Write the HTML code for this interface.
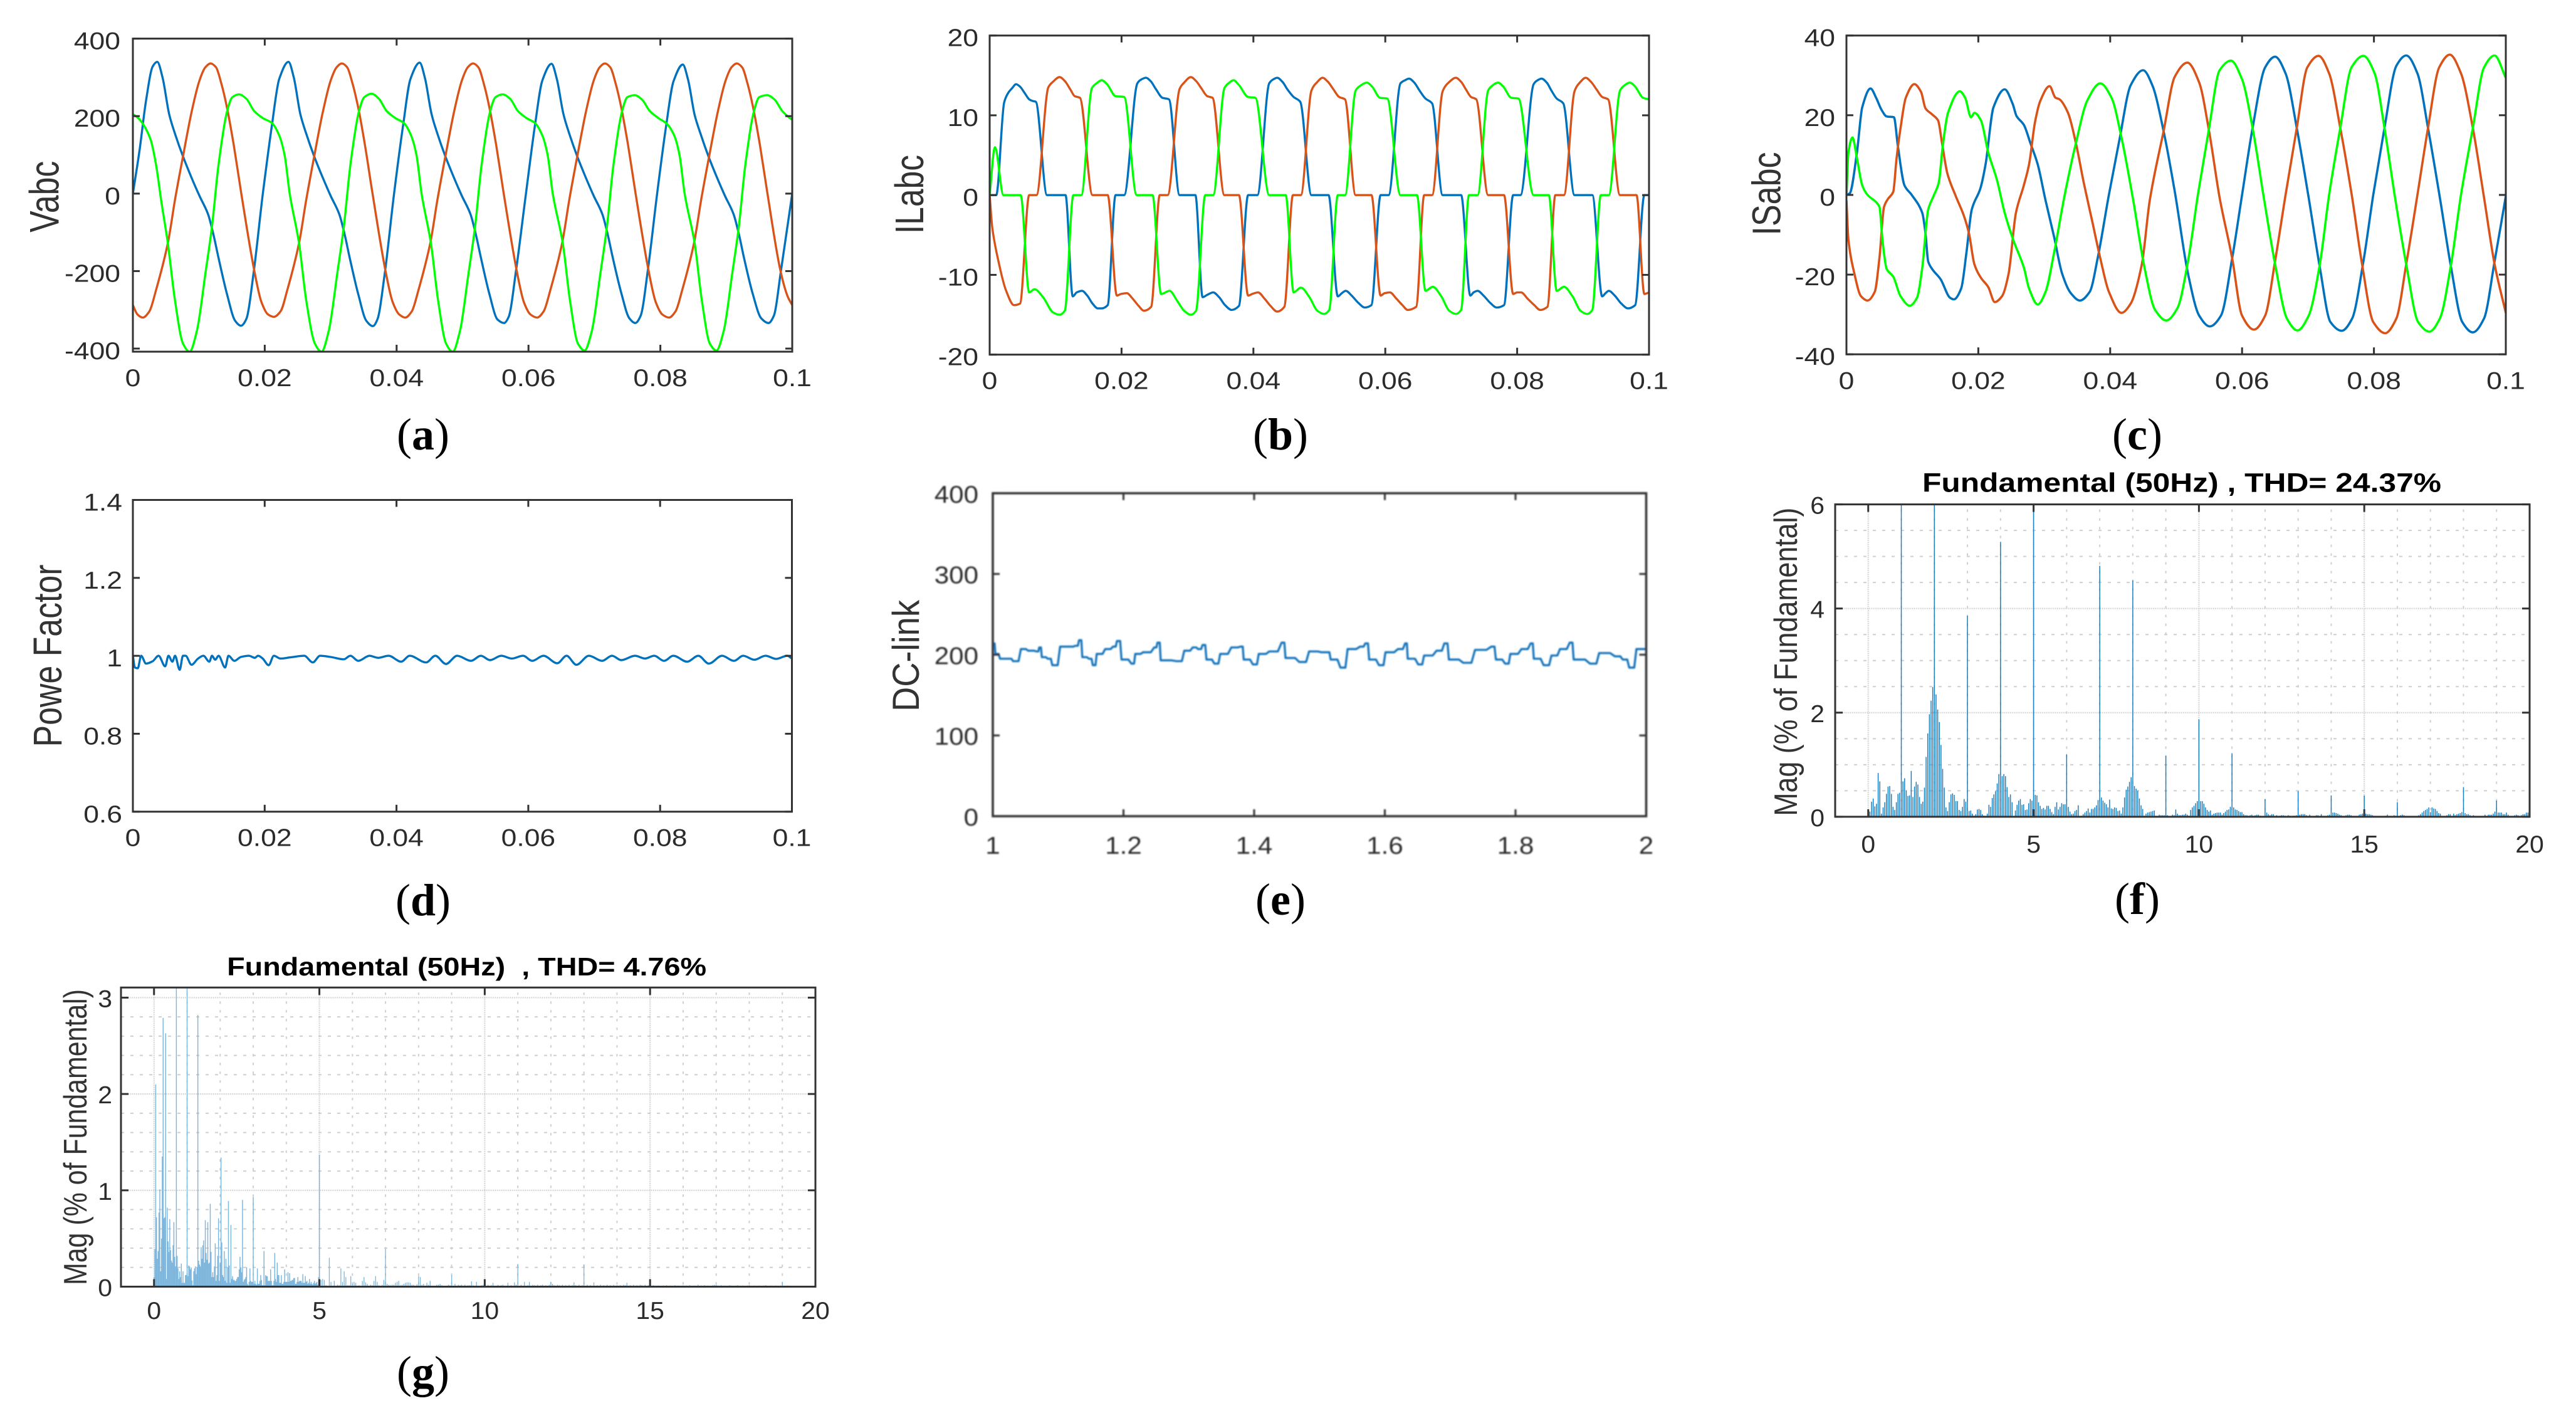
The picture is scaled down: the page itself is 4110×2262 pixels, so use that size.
<!DOCTYPE html>
<html lang="en">
<head>
<meta charset="utf-8">
<title>Power converter waveforms and spectra</title>
<style>
html,body{margin:0;padding:0;background:#fff;}
svg{display:block;}
text{font-family:"Liberation Sans",sans-serif;fill:#2b2b2b;white-space:pre;}
.cap{font-family:"Liberation Serif",serif;fill:#000;font-size:72px;text-anchor:middle;}
.cap tspan{font-weight:bold;}
.yl{fill:#333;text-anchor:middle;}
.ttl{font-weight:bold;fill:#000;text-anchor:middle;}
</style>
</head>
<body>
<svg id="fig" xmlns="http://www.w3.org/2000/svg" width="4110" height="2262" viewBox="0 0 4110 2262">
<defs>
<filter id="soft" x="-5%" y="-5%" width="110%" height="110%"><feGaussianBlur stdDeviation="1"/></filter>
</defs>
<rect width="4110" height="2262" fill="#fff"/>
<g id="pa"></g>
<g id="pb"></g>
<g id="pc"></g>
<g id="pd"></g>
<g id="pe" filter="url(#soft)"></g>
<g id="pf"></g>
<g id="pg"></g>

<text class="yl" font-size="66" textLength="114" lengthAdjust="spacingAndGlyphs" transform="translate(93.5,313.8) rotate(-90)">Vabc</text>
<text class="yl" font-size="64" textLength="126" lengthAdjust="spacingAndGlyphs" transform="translate(1473,310) rotate(-90)">ILabc</text>
<text class="yl" font-size="64" textLength="133" lengthAdjust="spacingAndGlyphs" transform="translate(2840.5,309) rotate(-90)">ISabc</text>
<text class="yl" font-size="64" textLength="291" lengthAdjust="spacingAndGlyphs" transform="translate(98,1046) rotate(-90)">Powe Factor</text>
<text class="yl" font-size="60" textLength="178" lengthAdjust="spacingAndGlyphs" transform="translate(1466,1046) rotate(-90)">DC-link</text>
<text class="yl" font-size="52" textLength="492" lengthAdjust="spacingAndGlyphs" transform="translate(2867,1055.7) rotate(-90)">Mag (% of Fundamental)</text>
<text class="yl" font-size="52" textLength="472" lengthAdjust="spacingAndGlyphs" transform="translate(138,1814) rotate(-90)">Mag (% of Fundamental)</text>

<text class="ttl" font-size="43" textLength="828" lengthAdjust="spacingAndGlyphs" x="3481" y="784.5">Fundamental (50Hz) , THD= 24.37%</text>
<text class="ttl" font-size="41" textLength="765" lengthAdjust="spacingAndGlyphs" x="744.6" y="1556">Fundamental (50Hz)  , THD= 4.76%</text>

<text class="cap" x="675" y="717">(<tspan>a</tspan>)</text>
<text class="cap" x="2043" y="717">(<tspan>b</tspan>)</text>
<text class="cap" x="3410" y="717">(<tspan>c</tspan>)</text>
<text class="cap" x="675" y="1460">(<tspan>d</tspan>)</text>
<text class="cap" x="2043" y="1459">(<tspan>e</tspan>)</text>
<text class="cap" x="3410" y="1458">(<tspan>f</tspan>)</text>
<text class="cap" x="675" y="2213">(<tspan>g</tspan>)</text>
</svg>

<script>
/* ---------- panel (a) Vabc: times in ms, values in volts ---------- */
const vabcBlueT=[0,1,2,3,3.7,4.5,5.5,6.4,7.6,8.9,10.1,11.4,12.2,13,14.3,15.5,16.4,17.2,18.3,19.7,21.1,22.2,
23.6,24.4,25.4,26.3,27.5,28.8,30,31.3,32.1,32.9,34.2,35.4,36.4,37.1,38.2,39.6,41,42.1,
43.5,44.3,45.3,46.2,47.4,48.7,49.9,51.2,52,52.8,54.1,55.3,56.3,57,58.1,59.6,61,62.1,
63.5,64.3,65.3,66.2,67.4,68.7,69.9,71.2,72,72.8,74.1,75.3,76.2,77,78.1,79.5,80.9,82,
83.4,84.2,85.2,86.1,87.3,88.6,89.8,91.1,91.9,92.7,94,95.3,96.4,97.2,98.3,100];
const vabcBlueV=[0,110,240,328,340,300,205,154,96,41,-6,-53,-104,-167,-261,-328,-341,-324,-206,-2,178,296,
340,300,205,154,96,41,-6,-53,-104,-167,-261,-328,-342,-324,-206,-2,178,296,
338,298,205,154,96,41,-6,-53,-104,-167,-261,-325,-334,-318,-200,-2,178,292,
335,296,205,154,96,41,-6,-53,-104,-167,-258,-322,-334,-316,-198,-2,178,290,
333,294,203,154,96,41,-6,-53,-104,-167,-258,-322,-334,-316,-198,0];
const vabcRedT=[0,.7,1.5,2.5,3.5,5.3,6.4,7.6,8.9,10.1,11,11.8,12.6,13.4,14.3,15.3,16.4,18.4,19.5,20.5,21.4,
22.4,23.4,25.2,26.3,27.5,28.8,30,30.9,31.7,32.5,33.3,34.2,35.2,36.3,38.3,39.4,40.4,41.3,
42.3,43.3,45.1,46.2,47.4,48.7,49.9,50.8,51.6,52.4,53.2,54.1,55.1,56.2,58.2,59.3,60.3,61.3,
62.3,63.3,65.1,66.2,67.4,68.7,69.9,70.8,71.6,72.4,73.2,74.1,75.1,76.2,78.2,79.3,80.3,81.3,
82.3,83.3,85.1,86.2,87.4,88.7,89.9,90.8,91.6,92.4,93.2,94.1,95.1,96.2,98.2,99.3,100];
const vabcRedV=[-288,-312,-320,-304,-250,-128,-15,96,210,292,326,336,326,285,220,125,5,-198,-280,-312,-318,
-304,-250,-128,-15,96,210,292,326,336,326,285,220,125,5,-198,-280,-312,-320,
-304,-250,-128,-15,96,210,292,326,336,326,285,220,125,5,-198,-280,-312,-320,
-304,-250,-128,-15,96,210,292,326,336,326,285,220,125,5,-198,-280,-312,-320,
-304,-250,-128,-15,96,210,292,326,336,326,285,220,125,5,-198,-265,-288];
const vabcGreenT=[0,.8,1.6,2.7,3.5,4.3,5.3,6.4,7.6,8.6,9.7,11,12,13,14.3,15.1,16.1,17.2,18.4,19.7,21.1,22.2,23,23.8,
25.2,26.3,27.6,28.6,29.7,31,32,33,34.3,35.1,36.2,37.3,38.5,39.8,41.1,42.2,43,43.8,
45.2,46.3,47.5,48.5,49.6,50.9,51.9,52.9,54.2,55,56.1,57.2,58.4,59.7,61,62.1,62.9,63.7,
65.2,66.3,67.5,68.5,69.6,70.9,71.9,72.9,74.2,75,76.1,77.2,78.4,79.7,81,82.1,82.9,83.7,
85.2,86.3,87.5,88.5,89.6,90.9,91.9,92.9,94.2,95,96.2,97.3,98.5,99.5,100];
const vabcGreenV=[205,195,178,139,76,-18,-128,-277,-387,-408,-355,-206,-85,76,213,249,256,245,213,195,182,150,100,-2,
-128,-277,-387,-408,-355,-206,-85,76,213,249,258,245,213,195,182,150,100,-2,
-128,-277,-387,-408,-355,-206,-85,76,213,249,256,245,213,195,182,150,100,-2,
-128,-277,-387,-405,-355,-206,-85,76,213,249,254,243,213,195,180,150,100,-2,
-128,-277,-387,-405,-355,-206,-85,76,213,249,254,243,213,197,191];

/* ---------- panel (b) ILabc ---------- */
const ilBlueT=[0,1,2.2,2.8,3.4,4,4.6,5.3,6,6.5,7,8.7,11.5,12.6,13.2,14,14.8,15.6,16.4,17,17.9,19.1,20.4,
22.4,23,23.7,24.4,25.2,26.2,27.2,28.8,31.2,32.3,33,33.9,34.8,35.7,36.7,37.8,39.2,40.6,
42.4,43,43.6,44.4,45.2,46.1,47.1,48.8,51.4,52.8,53.4,54,54.9,55.9,56.9,57.9,59.3,60.5,
62.3,63,63.6,64.4,65.2,66.1,67.1,68.7,71.5,72.9,73.4,74,74.9,75.9,76.9,78,79.4,80.5,
82.5,83.1,83.7,84.5,85.2,86,87,88.7,91.4,92.9,93.4,93.9,94.8,95.8,96.8,97.9,99.3,100];
const ilBlueV=[0,0,11.6,12.8,13.4,13.9,13.6,12.8,12,11.8,11.7,0,0,-12.7,-12.2,-12,-12.6,-13.6,-14.2,-14.2,-13.8,0,0,
14,14.5,14.7,14.3,13.3,12.2,12,0,0,-12.8,-12.5,-12.2,-12.8,-13.8,-14.4,-13.9,0,0,
14,14.5,14.7,14.2,13.2,12.3,11.7,0,0,-12.7,-12.3,-12,-12.6,-13.5,-14.1,-13.8,0,0,
14,14.4,14.6,14.1,13.1,12.1,11.5,0,0,-12.6,-12.2,-12,-12.6,-13.5,-14.1,-13.8,0,0,
13.9,14.4,14.6,14.1,13.1,12.1,11.5,0,0,-12.7,-12.3,-12,-12.6,-13.6,-14.2,-13.8,0,0];
const ilRedT=[0,.4,1.25,2.5,3.7,4.6,6,7.1,8.9,9.6,10.6,11.4,12.2,12.9,13.7,15.6,17.9,19.3,19.9,20.8,21.7,22.6,23.4,24.5,25.8,27,
28.8,29.5,30.5,31.3,32.1,33,33.8,35.6,37.8,39.2,39.8,40.7,41.7,42.6,43.6,44.7,46,47.2,
48.8,49.6,50.5,51.3,52.1,53,53.9,55.5,57.9,59.3,59.9,60.7,61.7,62.6,63.4,64.7,65.9,67.1,
68.7,69.6,70.7,71.5,72.2,73,73.8,75.6,78,79.4,80,80.6,81.6,82.6,83.5,84.6,85.8,87.1,
88.7,89.5,90.4,91.2,92,92.9,93.8,95.6,98.1,99.3,100];
const ilRedV=[0,-4.1,-8,-12,-13.8,-13.6,0,0,13.5,14.2,14.8,14.3,13.3,12.4,12.2,0,0,-12.6,-12.4,-12.3,-13,-13.9,-14.5,-14,0,0,
13.3,14.1,14.8,14.3,13.4,12.4,12.2,0,0,-12.6,-12.4,-12.2,-13,-13.9,-14.6,-14,0,0,
13.1,14.1,14.7,14.2,13.3,12.3,12,0,0,-12.6,-12.3,-12.2,-13,-13.8,-14.4,-14,0,0,
13,14.1,14.7,14.2,13.3,12.3,12,0,0,-12.4,-12.2,-12.2,-13,-13.8,-14.4,-14,0,0,
13,14.1,14.7,14.2,13.3,12.3,12,0,0,-12.4,-12.2];
const ilGreenT=[0,.8,2.1,4.7,6,6.8,8.1,9.6,10.6,11.4,12.7,13.9,15.5,16.2,17,17.8,19.1,20.4,22.3,24.7,26,27.3,28.4,29.5,30.5,31.3,32.7,33.9,
35.6,36.2,37,37.8,39.2,40.3,42.4,44.9,46.1,47.2,48.5,49.7,50.7,51.5,52.8,53.9,
55.5,56.2,57.2,58,59.2,60.3,62.3,64.8,66.1,67.2,68.5,69.7,70.7,71.5,72.7,74,
75.6,76.2,77.1,77.9,79.1,80.2,82.5,84.8,86,87.1,88.4,89.6,90.6,91.4,92.7,93.9,
95.6,96.2,97.1,97.9,99.1,100];
const ilGreenV=[0,6,0,0,-12.2,-11.8,-12.8,-14.7,-15,-14.5,0,0,13.4,14,14.4,13.9,12.4,12.3,0,0,-12.4,-12,-13.2,-14.5,-15,-14.5,0,0,
13.4,14,14.4,13.8,12.3,12.2,0,0,-12.2,-11.6,-12.8,-14.5,-14.9,-14.4,0,0,
13.1,13.7,14.1,13.6,12.2,12.1,0,0,-12,-11.5,-12.7,-14.5,-14.9,-14.4,0,0,
13.1,13.7,14.1,13.6,12.2,12.1,0,0,-12,-11.5,-12.7,-14.5,-14.9,-14.4,0,0,
13.1,13.7,14.1,13.6,12.2,12];

/* ---------- panel (c) ISabc ---------- */
const isBlueT=[0,.5,1.6,2.4,3.65,4.5,5.3,6.1,7.2,7.8,8.8,9.9,11.5,12,12.4,13,14.3,15.7,16.3,17.4,18.2,19,20.3,21.1,22.3,24,25.2,25.8,26.9,27.9,29,30.2,31.5,32.7,34,35.4,36.9,38.1,39.8,41.4,43.1,45,46.4,48.1,49.8,51.8,53.5,55.1,56.8,58.5,60,61.6,63.5,65,66.6,68.3,70.1,71.8,73.4,75.1,76.7,78.4,79.9,81.6,83.4,84.9,86.6,88.2,90,91.7,93.4,95,96.7,98.3,100];
const isBlueV=[0,.4,10.7,22,26.7,24.4,21.4,19.7,19.5,12.2,2.4,0,-4.5,-9.8,-16.7,-18.6,-21.2,-25.8,-26.2,-23.5,-14.4,-3.7,1.6,7.7,22,26.5,22.9,19.8,17.6,13,7.7,-1.4,-10.6,-19.7,-24.6,-26.5,-24.3,-15.9,0,13.8,27.5,31.3,27.5,16,.8,-19.7,-30.3,-33,-30.3,-15.9,0,16.8,32,34.7,30.5,16.8,-.7,-18.2,-31.9,-34.1,-31,-16.7,0,16.8,32.4,35,30.5,16.8,-.7,-18.2,-31.9,-34.5,-31,-16.7,-.3];
const isRedT=[0,.3,1.2,2.2,3.2,4.3,5,5.7,6.3,7.1,7.6,8.2,9,10.3,11.3,12,13,13.9,14.5,15.3,16.5,17.8,18.6,19.4,20.4,21.5,22.5,23.6,24.6,25.7,26.9,27.7,28.6,29.4,30.8,31.7,32.3,33.6,34.8,36,37.3,38.5,39.8,41.7,43.1,44.8,46,48.1,49.8,51.7,53.5,55,56.6,58.5,60,61.8,63.5,65,66.6,68.3,69.9,71.6,73.2,74.9,76.7,78.2,79.9,81.7,83.4,84.9,86.6,88.2,89.9,91.5,93.2,95,96.7,98.3,100];
const isRedV=[-1.4,-11.3,-19.7,-25.4,-26.5,-24.3,-15.9,-3,-1,.8,9.2,16.8,24.4,27.8,25.9,21.7,20.2,18.7,13,5.4,0,-5.2,-9.8,-17.4,-20.8,-23.1,-26.9,-25.4,-19.7,-4.5,2.4,7.7,18.3,23.6,27.3,24.4,24,20.6,13,3,-6.8,-15.9,-24.3,-29.6,-27.3,-17.4,-1.4,16,29.7,33.2,28.2,16,-.7,-15.9,-30.3,-33.8,-30.3,-16.7,0,16.8,32,34.9,30.5,16.8,-.7,-17.4,-31.9,-34.7,-31,-17.4,0,16.8,32,35.2,30.5,16.8,-.7,-17.4,-29.6];
const isGreenT=[0,.3,.9,1.6,2.4,3.2,4.5,5,5.5,6.1,7.1,8.2,9.6,10.7,11.5,12.4,13.2,14,14.6,15.4,17.2,18,18.9,19.4,20.4,21.5,22.8,24,25.3,26.9,27.7,29,30.2,31.5,33.1,34.8,36.5,38.5,40.2,41.7,43.5,45.2,46.8,48.5,50.2,51.8,53.3,55,56.6,58.3,60,61.6,63.3,65.1,66.8,68.4,70.1,71.8,73.2,74.9,76.6,78.4,80.1,81.6,83.2,84.9,86.7,88.4,90,91.7,93.2,95,96.7,98.3,100];
const isGreenV=[0,10.7,14.4,9.2,2.4,0,-1.8,-3,-12,-18.6,-20.5,-25.4,-27.8,-25.8,-18.2,-3.7,-.3,3.1,12.2,20.6,26,24.4,19.5,20.6,18.7,10.7,3.9,-4.5,-11.3,-18.2,-23.5,-27.5,-24.3,-14.4,0,13,23.6,28,24.4,14.5,-1.4,-18.2,-28.8,-31.5,-28.4,-16.7,0,16.8,31.3,33.7,29,16.8,-.7,-18.2,-31,-34,-30.3,-17.4,0,16.8,32,34.9,30.5,16.8,-.7,-17.4,-31.9,-34.3,-31,-17.4,0,16.8,32,35,29.4];

/* ---------- panel (d) power factor ---------- */
const pfT=[0,.3,.75,1.25,2,3,3.9,4.9,5.4,6,6.4,7.1,7.6,8,8.9,9.9,10.7,11.6,12,12.5,13,14,14.5,15.4,16.4,17.6,18.5,19,19.7,20.6,21.4,22.4,23.9,26,27.3,28.4,30,32,33,34.2,35.9,37.2,38.8,40.7,42,44.5,45.9,47.5,49.2,51.3,52.8,54.2,55.9,57.5,59.2,60.6,62.3,64.4,65.8,67.3,69.2,71.2,72.7,74.1,76.2,77.7,79.1,80.6,82,84.1,85.8,87.4,89.4,91.2,92.6,94.3,96,97.6,99.3,100];
const pfV=[1,.97,.968,1,.98,.986,1,.973,1,.985,1,.964,1,1,.977,.993,1,.985,1,.99,1,.97,1,.987,.997,1,.995,1,.993,.976,1,.993,.996,1,.983,1,.997,.991,1,.987,1,.995,1,.985,1,.983,1,.979,1,.987,1,.989,1,.993,1,.987,1,.981,1,.977,1,.987,1,.989,1,.993,1,.987,1,.985,1,.98,1,.987,1,.99,1,.992,1,.993];

/* ---------- panel (e) DC-link ---------- */
const dcT=[1,1.004,1.011,1.023,1.031,1.043,1.054,1.067,1.071,1.075,1.084,1.091,1.103,1.117,1.126,1.132,1.137,1.147,1.153,1.159,1.172,1.184,1.19,1.197,1.212,1.218,1.23,1.247,1.252,1.257,1.281,1.293,1.306,1.314,1.321,1.327,1.339,1.348,1.365,1.379,1.384,1.398,1.407,1.423,1.442,1.448,1.469,1.484,1.503,1.511,1.517,1.532,1.543,1.562,1.57,1.576,1.591,1.601,1.62,1.631,1.635,1.651,1.66,1.679,1.691,1.698,1.72,1.738,1.763,1.77,1.784,1.792,1.809,1.823,1.828,1.843,1.855,1.868,1.883,1.889,1.914,1.928,1.952,1.964,1.974,1.985,2];
const dcV=[214,201,195,195,192,207,205,204,209,197,195,187,210,210,211,218,197,195,187,201,207,210,217,194,189,201,203,209,215,193,192,205,209,207,212,194,189,201,209,210,194,188,201,204,215,196,191,204,203,203,194,184,207,210,214,194,187,203,207,214,195,188,199,205,214,194,190,206,210,194,189,201,207,214,195,187,199,207,215,194,189,202,198,194,184,207,207];

/* ---------- panel (f) spectrum: magnitude per 0.05 harmonic order, rows cover one order ---------- */
const thdLoadMag=[.12,.1,.29,.35,.2,.25,.84,.68,.06,.18,.28,.44,.58,.59,.44,.19,.13,.28,.44,.46,
6.5,.68,.74,.51,.4,.41,.88,.38,.58,.67,.62,.38,.25,.29,.56,1.15,1.6,1.97,2.23,2.49,
6.5,2.35,2.06,1.82,1.38,.92,.56,.18,.11,.28,.43,.45,.42,.3,.3,.13,.11,.19,.34,.29,
3.86,.11,.12,.06,.02,.05,.14,.15,.13,.05,.02,0,.06,.23,.19,.36,.43,.49,.64,.82,
5.28,.78,.82,.78,.57,.38,.43,.28,0,.12,.23,.31,.34,.23,.24,.13,.14,.26,.34,.31,
5.88,.42,.41,.28,.21,.15,.17,.14,.21,.21,.15,.09,.05,.19,.28,.14,.19,.26,.24,.24,
1.2,.19,.1,.05,.06,.11,.13,.22,0,.02,.05,.08,.11,.16,.08,.15,.15,.18,.22,.32,
4.82,.37,.31,.27,.24,.18,.33,.16,.15,.18,.17,.11,.12,.06,.18,.37,.52,.58,.67,.76,
4.54,.59,.54,.5,.35,.22,.15,.02,.06,.08,.09,.1,.11,.12,.02,.01,.04,.03,.03,.03,
1.17,.03,0,.01,.04,.03,.14,.06,.03,.03,.04,.04,.06,.04,.02,.13,.18,.21,.26,.3,
1.87,.3,.3,.25,.18,.13,.1,.12,.04,.06,.07,.08,.08,.08,.04,.07,.1,.13,.14,.19,
1.22,.18,.14,.13,.11,.09,.09,.05,.03,.03,.02,.03,.04,.02,.03,.04,.04,.02,0,.01,
.34,.08,.05,.03,.05,.05,0,.03,.01,.02,.03,.03,.02,.01,.03,.02,.01,.02,.02,.03,
.49,.04,.05,.05,.05,.03,0,.04,0,0,0,.03,.03,.01,.05,.01,.01,.01,.03,.04,
.41,.08,.08,.07,.06,.04,.03,0,0,.03,.04,.04,.03,0,.01,0,0,.04,.05,.06,
.41,.06,.05,.05,.04,.03,0,0,.01,.01,.01,.01,0,.02,.04,.01,.01,.01,.03,.02,
.28,0,.03,.04,.03,.01,0,0,0,0,0,0,0,.03,.05,.08,.11,.13,.15,.18,
.09,.18,.16,.15,.11,.07,.06,.01,.01,.01,.03,.05,.05,0,.06,.03,.05,.06,.07,.09,
.57,.07,.05,.05,.03,.01,.03,.01,0,.01,0,.01,.01,.04,0,.04,.04,.04,.06,.1,
.31,.08,.08,.08,.05,.05,.08,.04,0,0,0,.03,.04,.03,0,.03,.05,.05,.08,.08,
.08];

/* ---------- panel (g) spectrum: low part per 0.025 order (rows 0.5 order), high part per 0.05 order (rows 1 order) ---------- */
const thdSourceLow=[.1,.39,2.1,.72,.29,.37,.77,1.01,.16,.5,1.35,2.79,.71,.72,2.63,.08,.82,.47,.36,.7,
.38,.27,.25,.43,.67,.31,.21,3.4,.32,.19,.08,.16,.1,.24,.04,.16,.04,.04,.12,.12,
3.4,.11,.22,.21,.18,.2,.065,.015,.16,.19,.21,.13,.2,2.82,.27,.23,.21,.41,.29,.43,
.48,.25,.69,.35,.28,.67,.24,.25,.86,.36,.1,.15,.1,.21,.45,.06,.12,.32,.71,.06,
.25,1.34,.46,.12,.1,.37,.06,.29,.04,.2,.89,.22,.04,.64,.08,.11,.07,.07,.06,.06,
.08,.1,.1,.18,.31,.2,.15,.9,.05,.07,.08,.1,.2,.03,.015,.05,.19,.06,.05,.05,
.93,.03,.06,.03,.02,.19,.03,.03,.06,.12,.07,.015,.015,.37,.015,.12,.11,.11,.06,.06,
.06,.18,.06,.015,.015,.06,.35,.08,.05,.25,.12,.12,.04,.04,.12,.03,.03,.05,.18,.05,
.05,.05,.15,.05,.14,.06,.06,.07,.07,.09,.09,.03,.03,.05,.1,.05,.06,.06,.06,.04,
.13,.04,.04,.11,.05,.06,.03,.04,.08,.03,.05,.03,.02,.04,.06,.03,.04,.05,.02,.1,
1.37];
const thdSourceHigh=[.07,.08,.07,.015,.01,.3,.05,.01,.06,.01,.02,.015,.19,.05,.16,.1,.015,.015,.11,.03,
.05,.04,.01,.015,.01,.06,.1,.045,.03,.01,.02,.015,.06,.11,.05,.015,.01,.02,.07,.39,
.03,.02,.015,.02,.02,.04,.05,.06,.015,.02,.03,.04,.045,.045,.04,.02,.02,.01,.025,.11,
.1,.02,.03,.01,.04,.02,.06,.01,.01,.01,.02,.02,.03,.015,.01,.01,.01,.02,.015,.12,
.01,.03,.01,.02,.015,.02,.01,.02,.01,.015,.015,.055,.015,.01,.05,.01,.01,.015,.02,.06,
.01,.02,.01,.015,.04,.01,.01,.02,.01,.015,.02,.01,.01,.04,.01,.015,.01,.045,.02,.235,
.01,.02,.01,.05,.01,.015,.05,.01,.02,.015,.01,.02,.01,.015,.02,.01,.015,.01,.02,.05,
.03,.015,.01,.02,.015,.01,.02,.01,.015,.01,.02,.01,.015,.045,.015,.01,.02,.01,.015,.23,
.01,.02,.01,.015,.01,.045,.01,.015,.01,.02,.01,.015,.01,.02,.01,.015,.01,.02,.01,.015,
.01,.015,.01,.02,.015,.04,.01,.015,.01,.02,.01,.015,.01,.02,.015,.01,.02,.01,.015,.06,
.01,.015,.01,.008,.012,.01,.008,.012,.01,.015,.008,.012,.01,.008,.015,.01,.012,.008,.01,.012,
.008,.012,.01,.015,.008,.01,.012,.008,.02,.01,.012,.008,.015,.01,.012,.008,.01,.015,.02,.02,
.012,.01,.015,.008,.012,.01,.008,.015,.012,.01,.008,.012,.015,.01,.008,.012,.01,.008,.012,.015,
.008,.01,.012,.008,.01,.012,.008,.01,.012,.015,.008,.01,.012,.008,.01,.012,.008,.01,.012,.05,
.01,.008,.012,.008,.01,.006,.008,.01,.006,.008,.006,.01,.006,.008,.006,.006,.008,.006,.006,.006];

/* ---------- tick labels ---------- */
const timeTicks=[0,0.02,0.04,0.06,0.08,0.1];
const dcTimeTicks=[1,1.2,1.4,1.6,1.8,2];
const orderTicks=[0,5,10,15,20];
const orderMinorTicks=[1,2,3,4,6,7,8,9,11,12,13,14,16,17,18,19];
const vabcTicks=[-400,-200,0,200,400];
const ilTicks=[-20,-10,0,10,20];
const isTicks=[-40,-20,0,20,40];
const pfTicks=[0.6,0.8,1,1.2,1.4];
const dcTicks=[0,100,200,300,400];
const magFTicks=[0,2,4,6];
const magFMinorTicks=[.5,1,1.5,2.5,3,3.5,4.5,5,5.5];
const magGTicks=[0,1,2,3];
const magGMinorTicks=[.2,.4,.6,.8,1.2,1.4,1.6,1.8,2.2,2.4,2.6,2.8];

const BLUE='#0072BD',RED='#D95319',GREEN='#00FF00';
const SVGNS='http://www.w3.org/2000/svg';

function make(tag,parent,name,attrs){
  const el=document.createElementNS(SVGNS,tag);
  
  
  for(const k in attrs){el.setAttribute(k,attrs[k]);}
  parent.appendChild(el);
  return el;
}
function scale(d0,d1,r0,r1){return v=>r0+(v-d0)*(r1-r0)/(d1-d0);}

function smoothPath(xs,ys){
  const n=Math.min(xs.length,ys.length),s=[],m=[];
  for(let i=0;i<n-1;i++){s.push((ys[i+1]-ys[i])/((xs[i+1]-xs[i])||1));}
  m[0]=s[0];m[n-1]=s[n-2];
  for(let i=1;i<n-1;i++){m[i]=s[i-1]*s[i]<=0?0:2*s[i-1]*s[i]/(s[i-1]+s[i]);}
  let d='M'+xs[0].toFixed(1)+' '+ys[0].toFixed(1);
  for(let i=0;i<n-1;i++){
    const h=(xs[i+1]-xs[i])/3;
    d+='C'+(xs[i]+h).toFixed(1)+' '+(ys[i]+m[i]*h).toFixed(1)+' '+(xs[i+1]-h).toFixed(1)+' '+(ys[i+1]-m[i+1]*h).toFixed(1)+' '+xs[i+1].toFixed(1)+' '+ys[i+1].toFixed(1);
  }
  return d;
}
function stairPath(xs,ys){
  let d='M'+xs[0].toFixed(1)+' '+ys[0].toFixed(1);
  for(let i=1;i<Math.min(xs.length,ys.length);i++){
    const bx=xs[i-1]+(xs[i]-xs[i-1])*0.7;
    d+='L'+bx.toFixed(1)+' '+ys[i-1].toFixed(1)+'L'+xs[i].toFixed(1)+' '+ys[i].toFixed(1);
  }
  return d;
}

function axes(g,p){
  const X=scale(p.x0,p.x1,p.l,p.r),Y=scale(p.y0,p.y1,p.b,p.t),col=p.axisColor||'#333',tl=p.tick||11;
  p.xTicks.forEach(v=>{
    const x=X(v);
    make('line',g,'x-tick-bottom',{x1:x,x2:x,y1:p.b,y2:p.b-tl,stroke:col,'stroke-width':3});
    make('line',g,'x-tick-top',{x1:x,x2:x,y1:p.t,y2:p.t+tl,stroke:col,'stroke-width':3});
    const lab=make('text',g,'x-tick-label',{transform:'translate('+x+','+p.xLabY+') scale('+p.sx+',1)','text-anchor':'middle','font-size':p.fs,fill:p.textColor||'#2b2b2b'});
    lab.textContent=String(v);
  });
  p.yTicks.forEach(v=>{
    const y=Y(v);
    make('line',g,'y-tick-left',{x1:p.l,x2:p.l+tl,y1:y,y2:y,stroke:col,'stroke-width':3});
    make('line',g,'y-tick-right',{x1:p.r,x2:p.r-tl,y1:y,y2:y,stroke:col,'stroke-width':3});
    const lab=make('text',g,'y-tick-label',{transform:'translate('+p.yLabX+','+(y+p.yLabDy)+') scale('+p.sx+',1)','text-anchor':'end','font-size':p.fs,fill:p.textColor||'#2b2b2b'});
    lab.textContent=String(v);
  });
  make('rect',g,'plot-frame',{x:p.l,y:p.t,width:p.r-p.l,height:p.b-p.t,fill:'none',stroke:col,'stroke-width':p.frame||3});
}
function clip(g,id,p){
  const c=make('clipPath',g,'plot-clip',{id:id});
  make('rect',c,'plot-clip-area',{x:p.l,y:p.t,width:p.r-p.l,height:p.b-p.t});
  return make('g',g,'plot-marks',{'clip-path':'url(#'+id+')'});
}
function series(marks,p,name,color,width,T,V,shape){
  const X=scale(p.x0,p.x1,p.l,p.r),Y=scale(p.y0,p.y1,p.b,p.t);
  const xs=T.map(X),ys=V.map(Y);
  make('path',marks,name,{d:shape(xs,ys),fill:'none',stroke:color,'stroke-width':width,'stroke-linejoin':'round'});
}
function grid(g,p,xMajor,xMinor,yMajor,yMinor){
  const X=scale(p.x0,p.x1,p.l,p.r),Y=scale(p.y0,p.y1,p.b,p.t);
  xMinor.forEach(v=>make('line',g,'x-minor-grid',{x1:X(v),x2:X(v),y1:p.t+8,y2:p.b,stroke:'#cfcfcf','stroke-width':2,'stroke-dasharray':'4 10'}));
  yMinor.forEach(v=>make('line',g,'y-minor-grid',{x1:p.l,x2:p.r,y1:Y(v),y2:Y(v),stroke:'#cfcfcf','stroke-width':2,'stroke-dasharray':'5 10'}));
  xMajor.forEach(v=>make('line',g,'x-major-grid',{x1:X(v),x2:X(v),y1:p.t,y2:p.b,stroke:'#cfcfcf','stroke-width':2.2,'stroke-dasharray':'1.5 1.5'}));
  yMajor.forEach(v=>make('line',g,'y-major-grid',{x1:p.l,x2:p.r,y1:Y(v),y2:Y(v),stroke:'#cfcfcf','stroke-width':2.2,'stroke-dasharray':'1.5 1.5'}));
}
function bars(marks,p,name,color,width,start,step,mags){
  const X=scale(p.x0,p.x1,p.l,p.r),Y=scale(p.y0,p.y1,p.b,p.t);
  mags.forEach((m,i)=>{
    const x=X(start+i*step),y=Y(m);
    make('rect',marks,name,{x:(x-width/2).toFixed(2),y:y.toFixed(2),width:width,height:(p.b-y).toFixed(2),fill:color});
  });
}

/* panel geometry */
const pa={l:212,r:1264,t:61.6,b:561,x0:0,x1:0.1,y0:-408,y1:400,xTicks:timeTicks,yTicks:vabcTicks,xLabY:616,yLabX:192,yLabDy:17,fs:39,sx:1.14};
const pb={l:1579,r:2631,t:56.7,b:565.7,x0:0,x1:0.1,y0:-20,y1:20,xTicks:timeTicks,yTicks:ilTicks,xLabY:620.5,yLabX:1561,yLabDy:17,fs:39,sx:1.14};
const pc={l:2946,r:3998,t:56.7,b:565.2,x0:0,x1:0.1,y0:-40,y1:40,xTicks:timeTicks,yTicks:isTicks,xLabY:620.5,yLabX:2928,yLabDy:17,fs:39,sx:1.14};
const pd={l:212,r:1263.5,t:797.5,b:1294.8,x0:0,x1:0.1,y0:0.6,y1:1.4,xTicks:timeTicks,yTicks:pfTicks,xLabY:1349.5,yLabX:195,yLabDy:17,fs:39,sx:1.14};
const pe={l:1584,r:2626.5,t:786.8,b:1302,x0:1,x1:2,y0:0,y1:400,xTicks:dcTimeTicks,yTicks:dcTicks,xLabY:1362,yLabX:1561,yLabDy:15,fs:39,sx:1.08,axisColor:'#333',textColor:'#4a4a4a',frame:3.5};
const pf={l:2928,r:4036,t:804.6,b:1302.9,x0:-1,x1:20,y0:0,y1:6,xTicks:orderTicks,yTicks:magFTicks,xLabY:1360,yLabX:2911,yLabDy:15,fs:39,sx:1.05,tick:12};
const pg={l:193,r:1301,t:1575.3,b:2052.5,x0:-1,x1:20,y0:0,y1:3.105,xTicks:orderTicks,yTicks:magGTicks,xLabY:2104,yLabX:179,yLabDy:15,fs:39,sx:1.05,tick:12};

/* panel a */
(function(){
  const g=document.getElementById('pa'),m=clip(g,'ca',pa);
  const ms=v=>v/1000;
  series(m,pa,'vabc-phase-a-line',BLUE,3.4,vabcBlueT.map(ms),vabcBlueV,smoothPath);
  series(m,pa,'vabc-phase-b-line',RED,3.4,vabcRedT.map(ms),vabcRedV,smoothPath);
  series(m,pa,'vabc-phase-c-line',GREEN,3.4,vabcGreenT.map(ms),vabcGreenV,smoothPath);
  axes(g,pa);
})();
/* panel b */
(function(){
  const g=document.getElementById('pb'),m=clip(g,'cb',pb);
  const ms=v=>v/1000;
  series(m,pb,'ilabc-phase-a-line',BLUE,3.4,ilBlueT.map(ms),ilBlueV,smoothPath);
  series(m,pb,'ilabc-phase-b-line',RED,3.4,ilRedT.map(ms),ilRedV,smoothPath);
  series(m,pb,'ilabc-phase-c-line',GREEN,3.4,ilGreenT.map(ms),ilGreenV,smoothPath);
  axes(g,pb);
})();
/* panel c */
(function(){
  const g=document.getElementById('pc'),m=clip(g,'cc',pc);
  const ms=v=>v/1000;
  series(m,pc,'isabc-phase-a-line',BLUE,3.6,isBlueT.map(ms),isBlueV,smoothPath);
  series(m,pc,'isabc-phase-b-line',RED,3.6,isRedT.map(ms),isRedV,smoothPath);
  series(m,pc,'isabc-phase-c-line',GREEN,3.6,isGreenT.map(ms),isGreenV,smoothPath);
  axes(g,pc);
})();
/* panel d */
(function(){
  const g=document.getElementById('pd'),m=clip(g,'cd',pd);
  series(m,pd,'power-factor-line',BLUE,3.4,pfT.map(v=>v/1000),pfV,smoothPath);
  axes(g,pd);
})();
/* panel e */
(function(){
  const g=document.getElementById('pe'),m=clip(g,'ce',pe);
  series(m,pe,'dc-link-line','#0f6fb8',3.2,dcT,dcV,stairPath);
  axes(g,pe);
})();
/* panel f */
(function(){
  const g=document.getElementById('pf');
  grid(g,pf,orderTicks,orderMinorTicks,[2,4],magFMinorTicks);
  const m=clip(g,'cf',pf);
  bars(m,pf,'thd-load-bar','#1a80c4',1.5,0,0.05,thdLoadMag);
  axes(g,pf);
})();
/* panel g */
(function(){
  const g=document.getElementById('pg');
  grid(g,pg,orderTicks,orderMinorTicks,[1,2,3],magGMinorTicks);
  const m=clip(g,'cg',pg);
  bars(m,pg,'thd-source-low-bar','#7db6dd',1.45,0,0.025,thdSourceLow);
  bars(m,pg,'thd-source-high-bar','#7db6dd',1.3,5.05,0.05,thdSourceHigh);
  axes(g,pg);
})();
</script>
</body>
</html>
